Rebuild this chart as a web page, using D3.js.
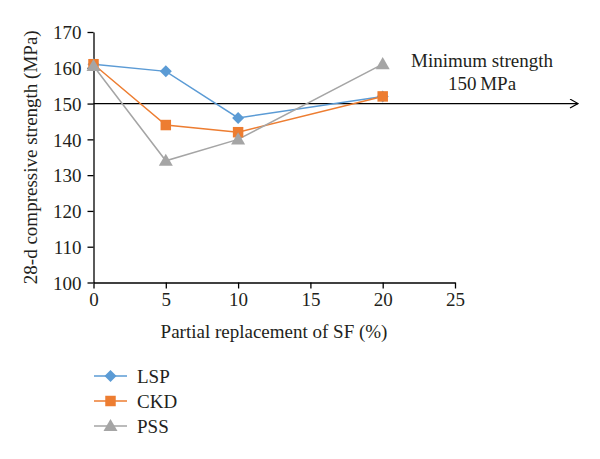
<!DOCTYPE html>
<html><head><meta charset="utf-8">
<script src="https://cdn.jsdelivr.net/npm/d3@7"></script>
<style>body{margin:0;background:#fff}text{font-family:"Liberation Serif","DejaVu Serif",serif;fill:#231f20}</style>
</head><body><svg id="c" width="600" height="459"></svg>
<script>
const xValues = [0, 5, 10, 20];
const seriesNames = ["LSP", "CKD", "PSS"];
const lspValues = [161, 159, 146, 152];
const ckdValues = [161, 144, 142, 152];
const pssValues = [160.5, 134, 140, 161];
const xTicks = [0, 5, 10, 15, 20, 25];
const yTicks = [100, 110, 120, 130, 140, 150, 160, 170];
const threshold = 150;
const colors = ["#5B9BD5", "#ED7D31", "#A5A5A5"];

const FS = "19px";
const svg = d3.select("#c");
const x = d3.scaleLinear().domain([0, 25]).range([93.5, 455]);
const y = d3.scaleLinear().domain([100, 170]).range([282.5, 32]);

const ax = svg.append("g").attr("transform", `translate(0,${y(100)})`)
  .call(d3.axisBottom(x).tickValues(xTicks).tickSize(6).tickSizeOuter(0).tickPadding(4));
const ay = svg.append("g").attr("transform", `translate(${x(0)},0)`)
  .call(d3.axisLeft(y).tickValues(yTicks).tickSize(6).tickSizeOuter(0).tickPadding(6));
[ax, ay].forEach(g => {
  g.selectAll("path,line").attr("stroke", "#000").attr("stroke-width", 1.3);
  g.selectAll("text").style("font-size", FS).attr("fill", "#231f20");
});
ay.selectAll("text").attr("dy", "0.35em");

// threshold arrow line
svg.append("defs").append("marker").attr("id", "arr").attr("viewBox", "0 0 10 10")
  .attr("refX", 9).attr("refY", 5).attr("markerWidth", 10).attr("markerHeight", 10)
  .attr("markerUnits", "userSpaceOnUse").attr("orient", "auto")
  .append("path").attr("d", "M1,0.5 L9,5 L1,9.5").attr("fill", "none").attr("stroke", "#000").attr("stroke-width", 1.2);
svg.append("line").attr("x1", x(0)).attr("x2", 578).attr("y1", y(threshold)).attr("y2", y(threshold))
  .attr("stroke", "#000").attr("stroke-width", 1.3).attr("marker-end", "url(#arr)");

svg.append("text").attr("x", 482).attr("y", 67).attr("text-anchor", "middle").style("font-size", FS).text("Minimum strength");
svg.append("text").attr("x", 482).attr("y", 90).attr("text-anchor", "middle").style("font-size", FS).text("150\u2009MPa");

const allSeries = [lspValues, ckdValues, pssValues];
const diamond = { draw(ctx, size) { const r = Math.sqrt(size / 2); ctx.moveTo(0, -r); ctx.lineTo(r, 0); ctx.lineTo(0, r); ctx.lineTo(-r, 0); ctx.closePath(); } };
const shapes = [diamond, d3.symbolSquare, d3.symbolTriangle];
const sizes = [72, 110, 85];
const line = d3.line().x((d, i) => x(xValues[i])).y(d => y(d));

allSeries.forEach((vals, s) => {
  svg.append("path").datum(vals).attr("d", line).attr("fill", "none")
    .attr("stroke", colors[s]).attr("stroke-width", 1.5);
});
allSeries.forEach((vals, s) => {
  svg.selectAll(null).data(vals).enter().append("path")
    .attr("d", d3.symbol().type(shapes[s]).size(sizes[s]))
    .attr("transform", (d, i) => `translate(${x(xValues[i])},${y(d) + (s === 2 ? 1 : 0)})`)
    .attr("fill", colors[s]);
});

svg.append("text").attr("x", 274).attr("y", 338).attr("text-anchor", "middle").style("font-size", FS)
  .text("Partial replacement of SF (%)");
svg.append("text").attr("transform", `translate(37,${y(135)}) rotate(-90)`).attr("text-anchor", "middle")
  .style("font-size", FS).text("28-d compressive strength (MPa)");

// legend
const ly = [376, 401, 426];
seriesNames.forEach((n, s) => {
  const g = svg.append("g").attr("transform", `translate(0,${ly[s]})`);
  g.append("line").attr("x1", 94).attr("x2", 127).attr("stroke", colors[s]).attr("stroke-width", 1.5);
  g.append("path").attr("d", d3.symbol().type(shapes[s]).size(sizes[s])).attr("transform", `translate(110.5,${s === 2 ? 1 : 0})`).attr("fill", colors[s]);
  g.append("text").attr("x", 137).attr("y", 6.5).style("font-size", FS).text(n);
});
</script></body></html>
